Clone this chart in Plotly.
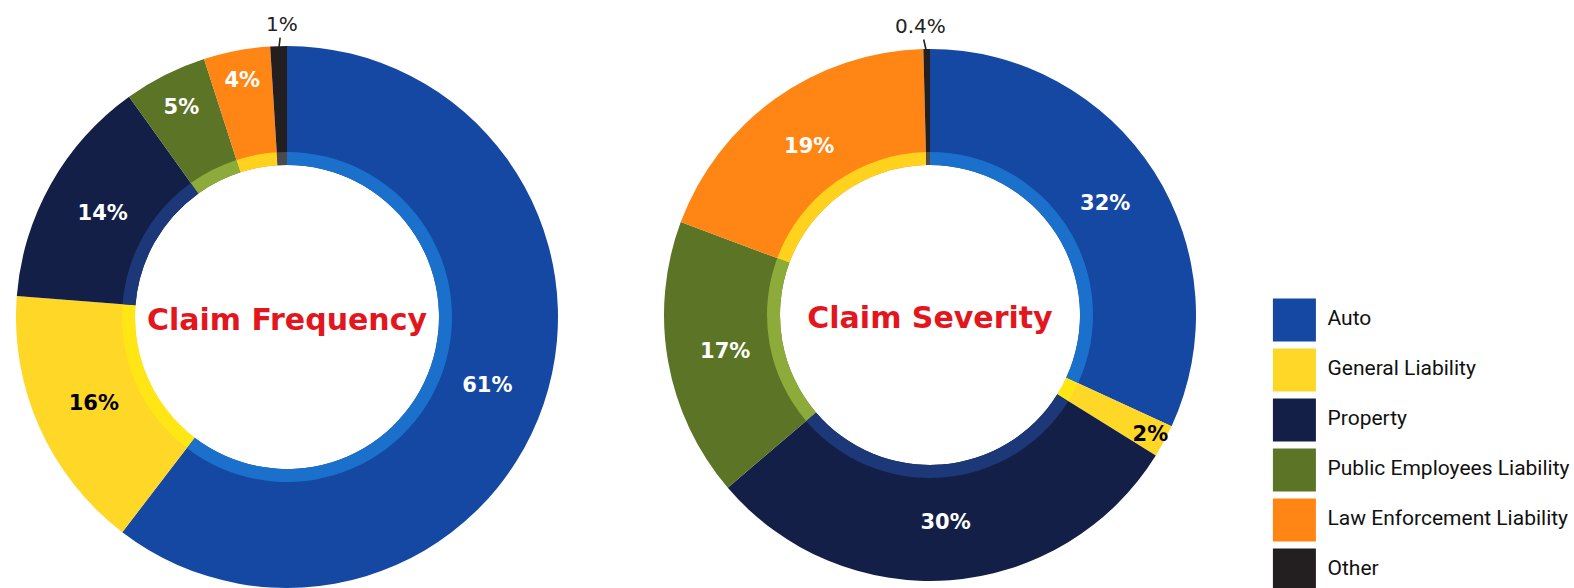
import math
import plotly.graph_objects as go

categories = ["Auto", "General Liability", "Property", "Public Employees Liability",
              "Law Enforcement Liability", "Other"]
frequency = [61, 16, 14, 5, 4, 1]
frequency_labels = ["61%", "16%", "14%", "5%", "4%", "1%"]
severity = [32, 2, 30, 17, 19, 0.4]
severity_labels = ["32%", "2%", "30%", "17%", "19%", "0.4%"]

colors = ["#1548a2", "#ffd726", "#141f48", "#5b7425", "#ff8614", "#231f20"]
ring_colors = ["#1b70cc", "#ffe614", "#1c3878", "#8dab3a", "#ffd21e", "#4a4a4a"]
label_colors = ["white", "black", "white", "white", "white", "black"]

W, H = 1574, 588
BOLD = "'DejaVu Sans', sans-serif"

fig = go.Figure()
annotations = []

def add_donut(values, texts, title, cx, cy, r, r_in, r_ring, ax, ay):
    dom_x = [(cx - r) / W, (cx + r) / W]
    dom_y = [max(0.0, 1 - (cy + r) / H), 1 - (cy - r) / H]
    r_eff = min(dom_x[1] - dom_x[0], (dom_y[1] - dom_y[0]) * H / W) * W / 2
    cy_eff = H * (1 - (dom_y[0] + dom_y[1]) / 2)
    small = [v < 1.5 for v in values]
    fig.add_trace(go.Pie(
        labels=categories, values=values, text=texts,
        texttemplate="<b>%{text}</b>", textinfo="text",
        textposition=["none" if s else "inside" for s in small],
        insidetextorientation="horizontal",
        textfont=dict(color=label_colors, size=21, family=BOLD),
        marker=dict(colors=colors, line=dict(width=0)),
        sort=False, direction="clockwise", rotation=0, hole=r_in / r_eff,
        domain=dict(x=dom_x, y=dom_y), showlegend=False, hoverinfo="label+percent",
        title=dict(text="<b>" + title + "</b>", position="middle center",
                   font=dict(color="#e3161e", size=30, family=BOLD)),
    ))
    fig.add_trace(go.Pie(
        labels=categories, values=values, textinfo="none",
        marker=dict(colors=ring_colors, line=dict(width=0)),
        sort=False, direction="clockwise", rotation=0, hole=r_in / r_ring,
        domain=dict(x=[(cx - r_ring) / W, (cx + r_ring) / W],
                    y=[1 - (cy_eff + r_ring) / H, 1 - (cy_eff - r_ring) / H]),
        showlegend=False, hoverinfo="skip",
    ))
    # leader-line labels for the tiny slices
    total = sum(values)
    cum = 0.0
    for v, t, s in zip(values, texts, small):
        mid = (cum + v / 2) / total * 2 * math.pi
        cum += v
        if not s:
            continue
        px = cx + (r_eff - 4) * math.sin(mid)
        py = cy_eff - (r_eff - 4) * math.cos(mid)
        annotations.append(dict(
            x=px / W, y=1 - py / H, xref="paper", yref="paper", text=t,
            showarrow=True, arrowhead=0, arrowwidth=1.6, arrowcolor="#222",
            standoff=0, ax=ax, ay=ay,
            font=dict(family=BOLD, size=20, color="#222"),
        ))

add_donut(frequency, frequency_labels, "Claim Frequency", 287, 317.5, 271.5, 152, 165, 3, -26)
add_donut(severity, severity_labels, "Claim Severity", 930, 315, 266, 150, 163, -6, -27)

# custom legend with large square swatches
fig.add_trace(go.Scatter(
    x=[0] * len(categories), y=list(range(len(categories))),
    mode="markers+text", text=categories, textposition="middle right",
    texttemplate="\u00a0%{text}",
    marker=dict(symbol="square", size=43, color=colors, line=dict(width=0)),
    textfont=dict(family="Roboto, sans-serif", size=21, color="#111"),
    cliponaxis=False, showlegend=False, hoverinfo="text",
    xaxis="x", yaxis="y",
))

fig.update_layout(
    width=W, height=H,
    margin=dict(l=0, r=0, t=0, b=0),
    paper_bgcolor="white", plot_bgcolor="rgba(0,0,0,0)",
    uniformtext=dict(minsize=21, mode="show"),
    xaxis=dict(domain=[0.78, 1.0], range=[-1.04, 4.36], visible=False, fixedrange=True),
    yaxis=dict(domain=[0, 1], range=[5.36, -6.4], visible=False, fixedrange=True),
    annotations=annotations,
    showlegend=False,
)

fig.write_html("out.html", config={"displayModeBar": False},
               post_script="document.body.style.margin='0';document.body.style.overflow='hidden';")
